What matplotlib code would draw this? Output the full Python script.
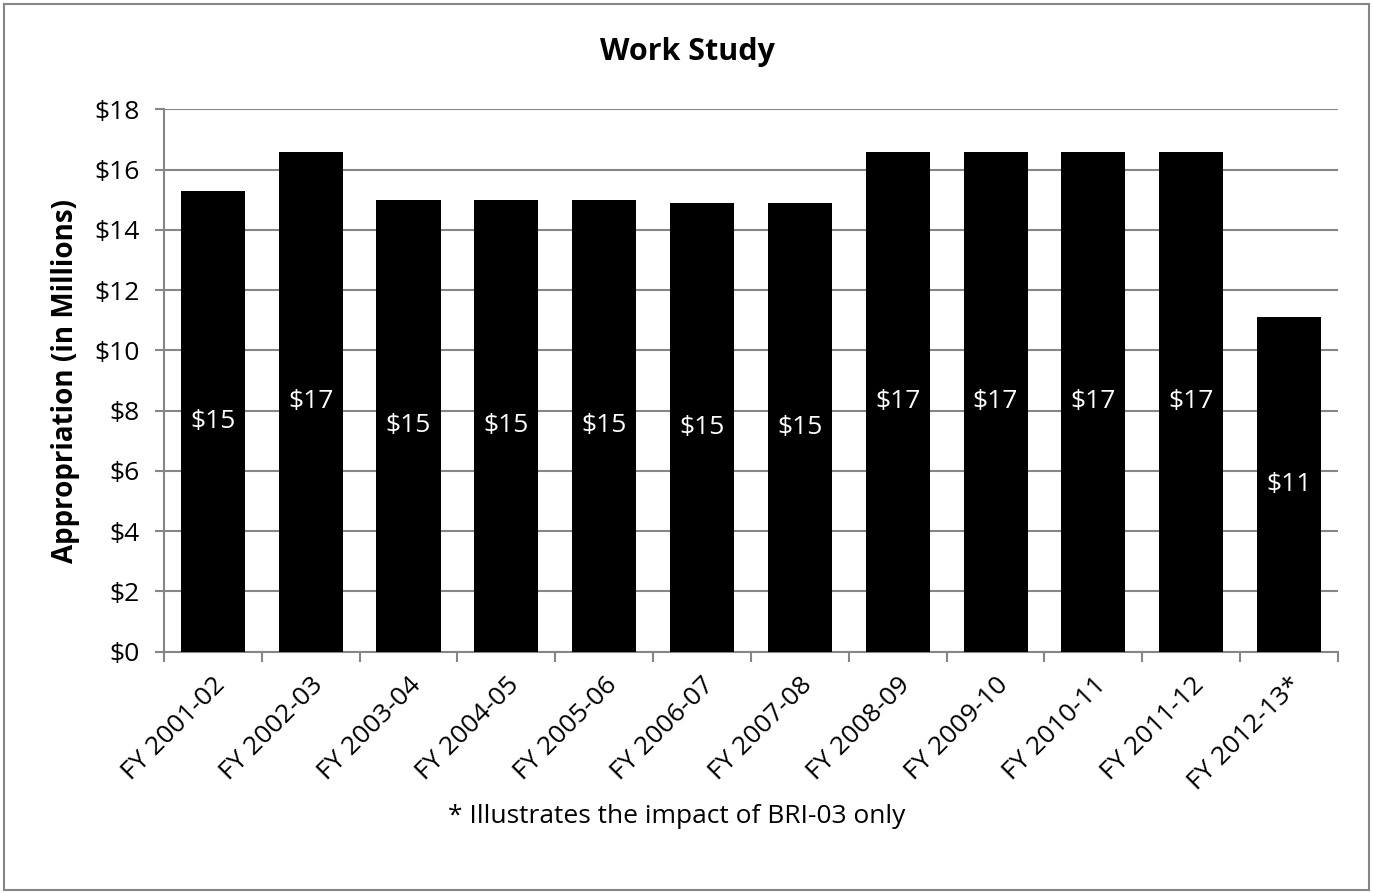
import numpy as np
import matplotlib.pyplot as plt
from matplotlib.patches import Rectangle

# Work-study appropriations by fiscal year, in millions of dollars
years = ["FY 2001-02", "FY 2002-03", "FY 2003-04", "FY 2004-05", "FY 2005-06",
         "FY 2006-07", "FY 2007-08", "FY 2008-09", "FY 2009-10", "FY 2010-11",
         "FY 2011-12", "FY 2012-13*"]
appropriation = [15.3, 16.6, 15.0, 15.0, 15.0, 14.9, 14.9, 16.6, 16.6, 16.6, 16.6, 11.1]
y_ticks = list(range(0, 19, 2))

GRID = "#868686"
FS = 19
plt.rcParams["font.family"] = ["Open Sans", "DejaVu Sans"]

fig = plt.figure(figsize=(13.73, 8.93), dpi=100)
fig.patches.append(Rectangle((0.003, 0.003), 0.994, 0.993, transform=fig.transFigure,
                             fill=False, edgecolor=GRID, linewidth=1.5))

ax = fig.add_axes([0.1194, 0.2704, 0.8551, 0.6070])
x = np.arange(len(years))
bars = ax.bar(x, appropriation, width=0.655, color="black", zorder=3)

ax.set_xlim(-0.5, len(years) - 0.5)
ax.set_ylim(0, 18)
ax.set_yticks(y_ticks)
ax.set_yticklabels([f"${v}" for v in y_ticks], fontsize=FS)
ax.yaxis.grid(True, color=GRID, linewidth=1.5, zorder=0)

# Category boundaries carry the tick marks; names sit at the centres
ax.set_xticks(np.arange(len(years) + 1) - 0.5)
ax.set_xticklabels([])
ax.set_xticks(x, minor=True)
ax.set_xticklabels(years, minor=True, rotation=45, ha="right",
                   rotation_mode="anchor", fontsize=FS)
ax.tick_params(axis="x", which="minor", length=0, pad=15)
ax.tick_params(axis="x", which="major", length=7, width=1.5, color=GRID)
ax.tick_params(axis="y", length=6.5, width=1.5, color=GRID, pad=11)

for side in ["top", "right"]:
    ax.spines[side].set_visible(False)
for side in ["left", "bottom"]:
    ax.spines[side].set_color(GRID)
    ax.spines[side].set_linewidth(1.5)

ax.bar_label(bars, labels=[f"${v:.0f}" for v in appropriation], label_type="center",
             color="white", fontsize=FS)

ax.set_ylabel("Appropriation (in Millions)", fontsize=20, fontweight="bold", labelpad=10)
fig.text(0.501, 0.942, "Work Study", ha="center", va="center", fontsize=22, fontweight="bold")
fig.text(0.493, 0.086, "* Illustrates the impact of BRI-03 only", ha="center", va="center",
         fontsize=FS)

fig.savefig("out.png", dpi=100)
